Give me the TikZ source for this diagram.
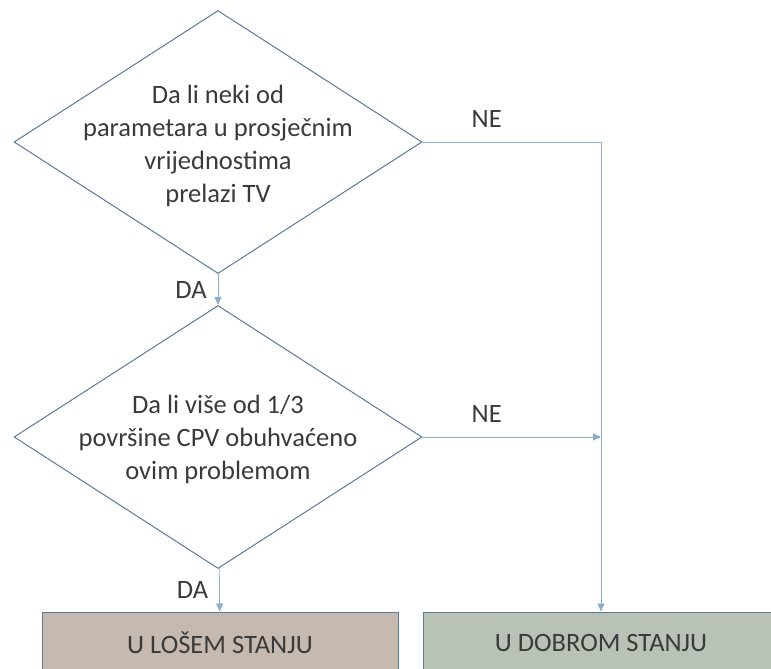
\documentclass[tikz,border=0pt]{standalone}
\usepackage{fontspec}
\setmainfont{Carlito}
\usepackage{xcolor}
\usetikzlibrary{positioning, shapes.geometric, arrows.meta}

\definecolor{rubline}{HTML}{5A7A9C}
\definecolor{vezaline}{HTML}{8EACCD}
\definecolor{tekst}{HTML}{3A3A3A}
\definecolor{losefill}{HTML}{C6B9AF}
\definecolor{dobrofill}{HTML}{B9C3B5}

\begin{document}
\begin{tikzpicture}[
    x=1pt, y=-1pt,
    font=\fontsize{26.5}{33}\selectfont, text=tekst,
    odluka/.style={diamond, draw=rubline, line width=1pt, minimum width=408pt, minimum height=263pt, inner sep=0pt},
    pitanje/.style={align=center, inner sep=0pt},
    stanje/.style={rectangle, draw=rubline, line width=1pt, minimum width=356pt, minimum height=62pt},
    veza/.style={draw=vezaline, line width=0.8pt, -{Triangle[length=8pt, width=7pt]}},
    oznaka/.style={inner sep=0pt}
]
  \clip (0,0) rectangle (771,669);

  % 定义节点位置
  \node[odluka] (q1) at (218,142) {};
  \node[pitanje] (q1text) at (218,146) {Da li neki od\\parametara u prosječnim\\vrijednostima\\prelazi TV};
  \node[odluka] (q2) at (218,437) {};
  \node[pitanje] (q2text) at (218,439) {Da li više od 1/3\\površine CPV obuhvaćeno\\ovim problemom};
  \node[stanje, fill=losefill] (lose) at (220,643) {U LOŠEM STANJU};
  \node[stanje, fill=dobrofill] (dobro) at (601,643) {U DOBROM STANJU};
  \coordinate (spoj) at (dobro.north |- q2.east);

  % 绘制有向边并添加标签
  \draw[veza] (q1) -- (q2) node[midway, left=11pt, oznaka] {DA};
  \draw[veza] (q2) -- (lose) node[midway, left=11pt, oznaka] {DA};
  \draw[veza] (q1.east) -| (dobro.north) node[pos=0.18, above=14pt, oznaka] {NE};
  \draw[veza] (q2.east) -- (spoj) node[pos=0.36, above=14pt, oznaka] {NE};
\end{tikzpicture}
\end{document}
